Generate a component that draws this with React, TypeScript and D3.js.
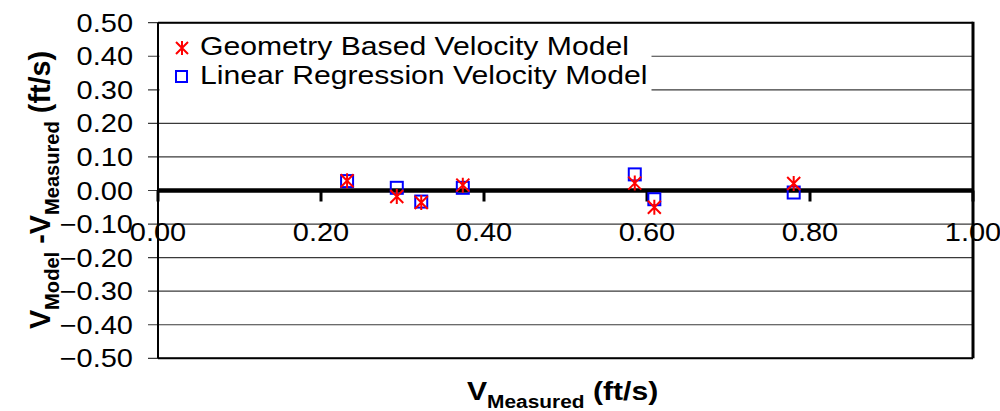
import React from "react";
import * as d3 from "d3";

const W = 1000;
const H = 411;

const xTicks = [0, 0.2, 0.4, 0.6, 0.8, 1.0];
const yTicks = [0.5, 0.4, 0.3, 0.2, 0.1, 0, -0.1, -0.2, -0.3, -0.4, -0.5];

const measured = [0.232, 0.293, 0.323, 0.374, 0.585, 0.609, 0.78];
const geometryDiff = [0.029, -0.018, -0.036, 0.016, 0.022, -0.05, 0.021];
const regressionDiff = [0.028, 0.008, -0.033, 0.008, 0.048, -0.026, -0.006];

const seriesNames = ["Geometry Based Velocity Model", "Linear Regression Velocity Model"];

const SX = 1.16;
const FONT = "'Liberation Sans', Arial, sans-serif";

export default function App() {
  const x = d3.scaleLinear().domain([0, 1]).range([158, 973]);
  const y = d3.scaleLinear().domain([-0.5, 0.5]).range([358.3, 22.7]);
  const fmt = d3.format(".2f");
  const left = x(0), right = x(1), top = y(0.5), bottom = y(-0.5);

  const star = (cx: number, cy: number, s: number) =>
    `M${cx - s},${cy - s}L${cx + s},${cy + s}M${cx - s},${cy + s}L${cx + s},${cy - s}M${cx},${cy - s - 1}L${cx},${cy + s + 1}`;

  return (
    <svg width={W} height={H} style={{ position: "absolute", left: 0, top: 0, background: "#fff" }} fontFamily={FONT}>
      <rect x={0} y={0} width={W} height={H} fill="#fff" />
      {/* gridlines + left ticks */}
      {yTicks.map((t) => (
        <line key={"g" + t} x1={148} x2={right} y1={y(t)} y2={y(t)} stroke="#3a3a3a" strokeWidth={1.2} />
      ))}
      {/* legend background */}
      <rect x={159.5} y={24} width={492} height={74} fill="#fff" />
      {/* frame */}
      <line x1={left} x2={right} y1={top} y2={top} stroke="#000" strokeWidth={2} />
      <line x1={left} x2={right} y1={bottom} y2={bottom} stroke="#000" strokeWidth={2} />
      <line x1={left} x2={left} y1={top} y2={bottom} stroke="#000" strokeWidth={2} />
      <line x1={right} x2={right} y1={top - 1} y2={bottom} stroke="#000" strokeWidth={3} />
      {/* zero axis */}
      <line x1={left} x2={right} y1={y(0)} y2={y(0)} stroke="#000" strokeWidth={4.5} />
      {xTicks.map((t) => (
        <line key={"xt" + t} x1={x(t)} x2={x(t)} y1={y(0)} y2={y(0) + 11} stroke="#000" strokeWidth={3} />
      ))}
      {/* y tick labels */}
      {yTicks.map((t) => (
        <text key={"yl" + t} transform={`translate(133,${y(t) + 9}) scale(${SX},1)`} textAnchor="end" fontSize={25} fill="#000">
          {fmt(t)}
        </text>
      ))}
      {/* x tick labels */}
      {xTicks.map((t) => (
        <text key={"xl" + t} transform={`translate(${x(t)},241) scale(${SX},1)`} textAnchor="middle" fontSize={25} fill="#000">
          {fmt(t)}
        </text>
      ))}
      {/* points */}
      {measured.map((m, i) => (
        <rect key={"sq" + i} x={x(m) - 6} y={y(regressionDiff[i]) - 6} width={12} height={12} fill="none" stroke="#0000ff" strokeWidth={2} />
      ))}
      {measured.map((m, i) => (
        <path key={"st" + i} d={star(x(m), y(geometryDiff[i]), 6.5)} stroke="#ff0000" strokeWidth={2} fill="none" />
      ))}
      {/* legend */}
      <path d={star(182, 48, 6)} stroke="#ff0000" strokeWidth={2} fill="none" />
      <rect x={176} y={71} width={11} height={11} fill="none" stroke="#0000ff" strokeWidth={2} />
      <text transform={`translate(200,55) scale(${SX},1)`} fontSize={26} fill="#000">{seriesNames[0]}</text>
      <text transform={`translate(200,84) scale(${SX},1)`} fontSize={26} fill="#000">{seriesNames[1]}</text>
      {/* x title */}
      <text transform={`translate(467,400) scale(${SX},1)`} fontSize={26} fontWeight="bold" fill="#000">
        <tspan>V</tspan>
        <tspan fontSize={18} dy={8}>Measured</tspan>
        <tspan dy={-8}>{" (ft/s)"}</tspan>
      </text>
      {/* y title */}
      <text transform={`translate(50,190) scale(${SX},1.15) rotate(-90)`} textAnchor="middle" fontSize={25} fontWeight="bold" fill="#000">
        <tspan>V</tspan>
        <tspan fontSize={17.5} dy={8}>Model</tspan>
        <tspan dy={-8}>{" -V"}</tspan>
        <tspan fontSize={17.5} dy={8}>Measured</tspan>
        <tspan dy={-8}>{" (ft/s)"}</tspan>
      </text>
    </svg>
  );
}
